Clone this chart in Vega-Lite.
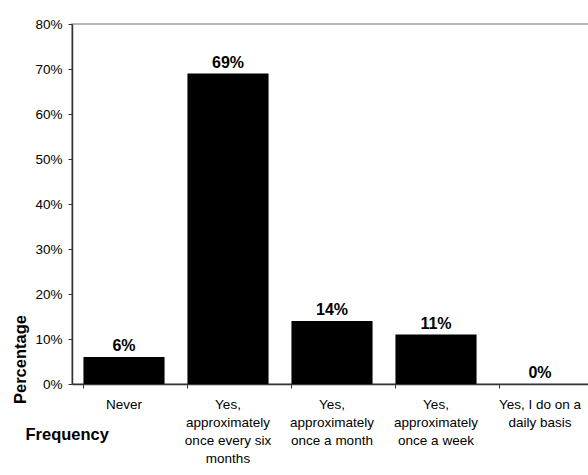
{
  "$schema": "https://vega.github.io/schema/vega-lite/v6.json",
  "width": 520,
  "height": 360,
  "autosize": {"type": "none"},
  "padding": {"left": 72, "top": 24, "right": 0, "bottom": 91},
  "background": "white",
  "data": {
    "values": [
      {"frequency": "Never", "share": 0.06},
      {"frequency": "Yes,|approximately|once every six|months", "share": 0.69},
      {"frequency": "Yes,|approximately|once a month", "share": 0.14},
      {"frequency": "Yes,|approximately|once a week", "share": 0.11},
      {"frequency": "Yes, I do on a|daily basis", "share": 0.0}
    ]
  },
  "encoding": {
    "x": {
      "field": "frequency",
      "type": "nominal",
      "sort": null,
      "scale": {"paddingInner": 0.22, "paddingOuter": 0.11},
      "axis": {
        "title": "Frequency",
        "titleFont": "Liberation Sans",
        "titleFontSize": 16.5,
        "titleFontWeight": "bold",
        "titleColor": "black",
        "titleAngle": 0,
        "titleAlign": "left",
        "titleBaseline": "alphabetic",
        "titleX": -47,
        "titleY": 55,
        "labelExpr": "split(datum.label, '|')",
        "labelAngle": 0,
        "labelFont": "Liberation Sans",
        "labelFontSize": 13.5,
        "labelLineHeight": 18,
        "labelColor": "black",
        "labelPadding": 9,
        "bandPosition": 0,
        "tickSize": 4,
        "tickColor": "#333333",
        "domainColor": "#333333",
        "domainWidth": 1.5,
        "grid": false
      }
    },
    "y": {
      "field": "share",
      "type": "quantitative",
      "scale": {"domain": [0, 0.8], "nice": false},
      "axis": {
        "title": "Percentage",
        "titleFont": "Liberation Sans",
        "titleFontSize": 16.5,
        "titleFontWeight": "bold",
        "titleColor": "black",
        "titleAngle": 270,
        "titleAlign": "center",
        "titleBaseline": "middle",
        "titleX": -52,
        "titleY": 335,
        "format": ".0%",
        "values": [0, 0.1, 0.2, 0.3, 0.4, 0.5, 0.6, 0.7, 0.8],
        "labelFont": "Liberation Sans",
        "labelFontSize": 13.5,
        "labelColor": "black",
        "labelPadding": 6,
        "tickSize": 4,
        "tickColor": "#333333",
        "domainColor": "#333333",
        "domainWidth": 1.5,
        "grid": false
      }
    }
  },
  "layer": [
    {"mark": {"type": "bar", "color": "black"}},
    {
      "mark": {
        "type": "text",
        "baseline": "alphabetic",
        "dy": -6,
        "font": "Liberation Sans",
        "fontSize": 16,
        "fontWeight": "bold",
        "color": "black"
      },
      "encoding": {"text": {"field": "share", "type": "quantitative", "format": ".0%"}}
    }
  ],
  "config": {
    "view": {"stroke": "#a0a0a0", "strokeWidth": 1.5}
  }
}
